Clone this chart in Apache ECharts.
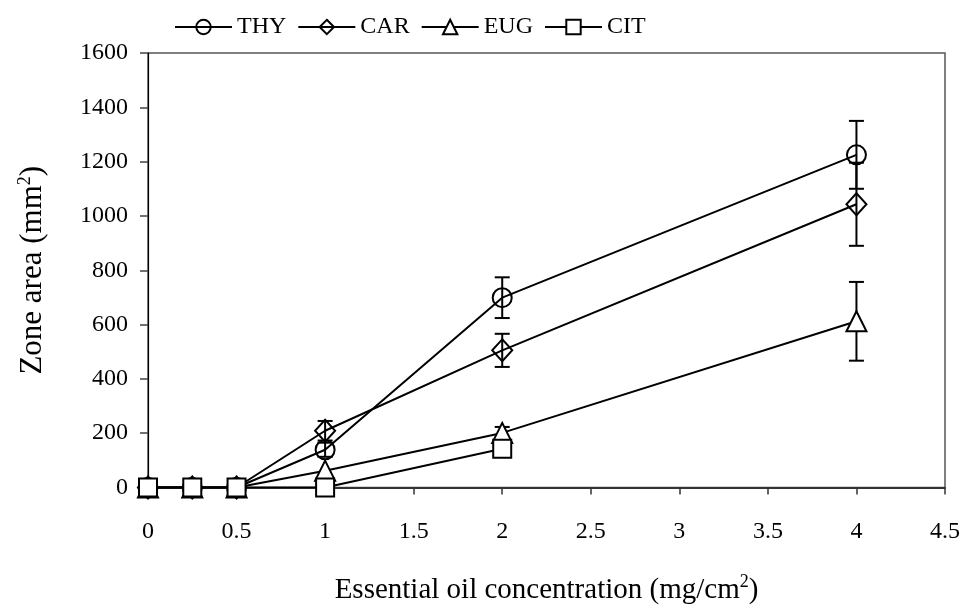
<!DOCTYPE html>
<html>
<head>
<meta charset="utf-8">
<script src="https://cdn.jsdelivr.net/npm/echarts@6/dist/echarts.min.js"></script>
<style>
  html, body { margin: 0; padding: 0; background: #fff; }
  #chart { width: 966px; height: 610px; }
</style>
</head>
<body>
<div id="chart"></div>
<script>
// concentrations (mg/cm2)
const conc = [0, 0.25, 0.5, 1, 2, 4];
const seriesNames = ['THY', 'CAR', 'EUG', 'CIT'];
// zone area means (mm2)
const thy = [0, 0, 0, 139, 699, 1225];
const car = [0, 0, 0, 209, 505, 1043];
const eug = [0, 0, 0, 62, 201, 612];
const cit = [0, 0, 0, 0, 143];
// standard deviations
const thyErr = [0, 0, 0, 26, 75, 125];
const carErr = [0, 0, 0, 36, 61, 153];
const eugErr = [0, 0, 0, 0, 22, 145];
const citErr = [0, 0, 0, 0, 0];

const yTicks = { min: 0, max: 1600, interval: 200 };
const xTicks = { min: 0, max: 4.5, interval: 0.5 };

const FONT = 'Liberation Serif';

const chart = echarts.init(document.getElementById('chart'), null, { renderer: 'canvas' });

function pairs(vals) {
  return vals.map((v, i) => [conc[i], v]);
}
function errData(vals, errs) {
  const out = [];
  vals.forEach((v, i) => {
    if (errs[i] > 0) out.push([conc[i], v - errs[i], v + errs[i]]);
  });
  return out;
}

function errorBars(data) {
  return {
    type: 'custom',
    z: 1,
    silent: true,
    data: data,
    encode: { x: 0, y: [1, 2] },
    renderItem: function (params, api) {
      const lo = api.coord([api.value(0), api.value(1)]);
      const hi = api.coord([api.value(0), api.value(2)]);
      const w = 7.5;
      const style = { stroke: '#000', lineWidth: 2 };
      return {
        type: 'group',
        children: [
          { type: 'line', shape: { x1: lo[0], y1: lo[1], x2: hi[0], y2: hi[1] }, style: style },
          { type: 'line', shape: { x1: lo[0] - w, y1: lo[1], x2: lo[0] + w, y2: lo[1] }, style: style },
          { type: 'line', shape: { x1: hi[0] - w, y1: hi[1], x2: hi[0] + w, y2: hi[1] }, style: style }
        ]
      };
    }
  };
}

function lineSeries(name, vals, symbol, size, fill) {
  return {
    name: name,
    type: 'line',
    z: 2,
    data: pairs(vals),
    symbol: symbol,
    symbolSize: size,
    showAllSymbol: true,
    lineStyle: { color: '#000', width: 2 },
    itemStyle: { color: fill, borderColor: '#000', borderWidth: 2 }
  };
}

const supStyle = { fontFamily: FONT, fontSize: 18, verticalAlign: 'top', padding: [0, 0, 16, 0] };

const option = {
  animation: false,
  backgroundColor: '#fff',
  textStyle: { fontFamily: FONT, color: '#000' },
  legend: {
    data: seriesNames,
    left: 169,
    top: 10,
    itemWidth: 57,
    itemHeight: 18,
    itemGap: 11,
    textStyle: { fontFamily: FONT, fontSize: 24, color: '#000' }
  },
  grid: {
    left: 148, right: 21, top: 53, bottom: 120,
    show: true, borderColor: '#555', borderWidth: 1.5
  },
  xAxis: {
    type: 'value',
    min: xTicks.min, max: xTicks.max, interval: xTicks.interval,
    name: 'Essential oil concentration (mg/cm{sup|2})',
    nameLocation: 'middle',
    nameGap: 86,
    nameTextStyle: {
      fontFamily: FONT, fontSize: 29, color: '#000',
      rich: { sup: supStyle }
    },
    axisLine: { lineStyle: { color: '#333', width: 2 } },
    axisTick: { length: 7, lineStyle: { color: '#333', width: 1.5 } },
    axisLabel: { margin: 32, fontFamily: FONT, fontSize: 24, color: '#000' },
    splitLine: { show: false }
  },
  yAxis: {
    type: 'value',
    min: yTicks.min, max: yTicks.max, interval: yTicks.interval,
    name: 'Zone area (mm{sup|2})',
    nameLocation: 'middle',
    nameGap: 98,
    nameTextStyle: {
      fontFamily: FONT, fontSize: 31, color: '#000',
      rich: { sup: supStyle }
    },
    axisLine: { show: true, lineStyle: { color: '#000', width: 1.2 } },
    axisTick: { show: true, length: 8, lineStyle: { color: '#444', width: 1.5 } },
    axisLabel: {
      margin: 20, fontFamily: FONT, fontSize: 24, color: '#000',
      formatter: function (v) { return String(v); }
    },
    splitLine: { show: false }
  },
  series: [
    errorBars(errData(thy, thyErr)),
    errorBars(errData(car, carErr)),
    errorBars(errData(eug, eugErr)),
    errorBars(errData(cit, citErr)),
    lineSeries('THY', thy, 'circle', 19, 'rgba(255,255,255,0)'),
    lineSeries('CAR', car, 'diamond', [20, 22], 'rgba(255,255,255,0)'),
    lineSeries('EUG', eug, 'triangle', 20, '#fff'),
    lineSeries('CIT', cit, 'rect', 18, '#fff')
  ]
};

chart.setOption(option);
</script>
</body>
</html>
